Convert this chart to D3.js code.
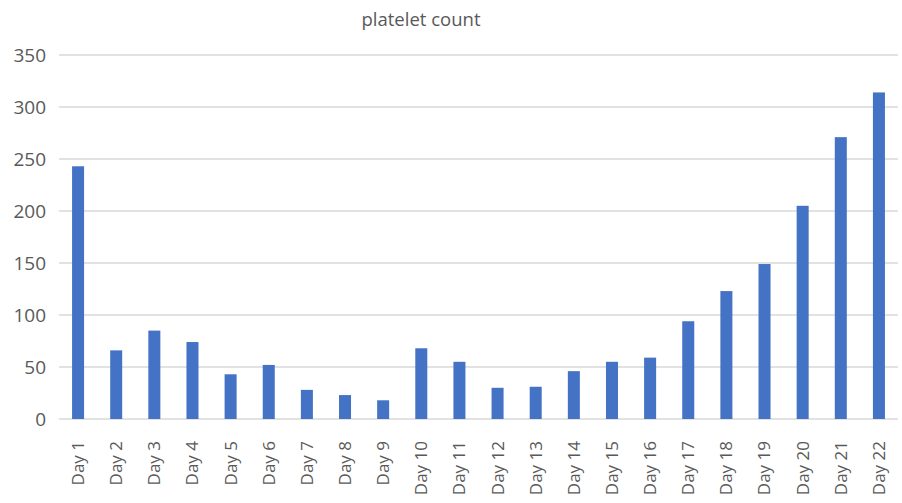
<!DOCTYPE html>
<html>
<head>
<meta charset="utf-8">
<script src="https://cdn.jsdelivr.net/npm/d3@7/dist/d3.min.js"></script>
<style>
  html, body { margin: 0; padding: 0; background: #fff; }
  svg { display: block; }
  text { font-family: "Open Sans", "Noto Sans", sans-serif; fill: #595959; }
</style>
</head>
<body>
<svg id="chart" width="902" height="503"></svg>
<script>
// Daily platelet counts
const categories = ["Day 1","Day 2","Day 3","Day 4","Day 5","Day 6","Day 7","Day 8","Day 9","Day 10","Day 11",
  "Day 12","Day 13","Day 14","Day 15","Day 16","Day 17","Day 18","Day 19","Day 20","Day 21","Day 22"];
const plateletValues = [243, 66, 85, 74, 43, 52, 28, 23, 18, 68, 55, 30, 31, 46, 55, 59, 94, 123, 149, 205, 271, 314];
const yTicks = [0, 50, 100, 150, 200, 250, 300, 350];
const chartTitle = "platelet count";

const svg = d3.select("#chart");
const margin = { left: 59, right: 4, top: 55, bottom: 84 };
const W = 902, H = 503;

const x = d3.scaleBand()
  .domain(categories)
  .range([margin.left, W - margin.right])
  .paddingInner(0.685)
  .paddingOuter(0.3425);

const y = d3.scaleLinear()
  .domain([0, 350])
  .range([H - margin.bottom, margin.top]);

// Horizontal gridlines
svg.append("g")
  .selectAll("line")
  .data(yTicks)
  .join("line")
  .attr("x1", margin.left)
  .attr("x2", W - margin.right)
  .attr("y1", d => y(d))
  .attr("y2", d => y(d))
  .attr("stroke", "#d9d9d9")
  .attr("stroke-width", 1.3);

// Y axis labels
const yAxis = d3.axisLeft(y).tickValues(yTicks).tickSize(0).tickPadding(13);
const yg = svg.append("g")
  .attr("transform", `translate(${margin.left},0)`)
  .call(yAxis);
yg.select(".domain").remove();
yg.selectAll("text")
  .style("font-size", "19px")
  .style("fill", "#595959")
  .style("font-family", "'Open Sans', sans-serif");

// Bars
svg.append("g")
  .selectAll("rect")
  .data(plateletValues)
  .join("rect")
  .attr("x", (d, i) => x(categories[i]))
  .attr("width", x.bandwidth())
  .attr("y", d => y(d))
  .attr("height", d => y(0) - y(d))
  .attr("fill", "#4472c4");

// X axis labels, rotated
const xAxis = d3.axisBottom(x).tickSize(0).tickPadding(0);
const xg = svg.append("g")
  .attr("transform", `translate(0,${y(0)})`)
  .call(xAxis);
xg.select(".domain").remove();
xg.selectAll("text")
  .attr("transform", "rotate(-90)")
  .attr("text-anchor", "end")
  .attr("x", -22)
  .attr("y", 0)
  .attr("dy", "0.35em")
  .style("font-size", "17px")
  .style("fill", "#595959")
  .style("font-family", "'Open Sans', sans-serif");

// Title
svg.append("text")
  .attr("x", 421)
  .attr("y", 26)
  .attr("text-anchor", "middle")
  .style("font-size", "18.5px")
  .text(chartTitle);
</script>
</body>
</html>
